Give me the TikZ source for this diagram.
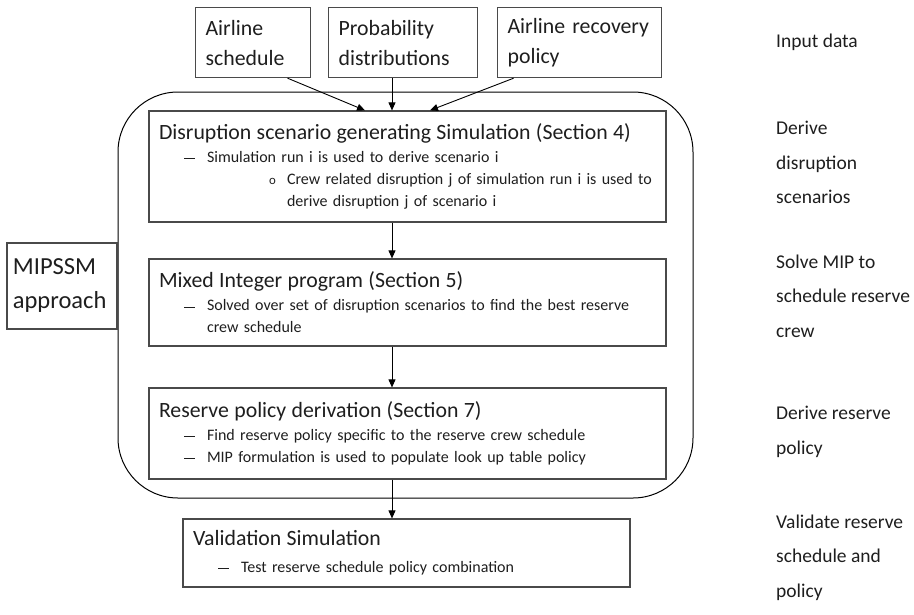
\documentclass[tikz,border=0pt]{standalone}
\usepackage{fontspec}
\setmainfont{Carlito}
\usetikzlibrary{arrows.meta,positioning,calc}

\definecolor{boxline}{HTML}{4A4A4A}
\definecolor{ink}{HTML}{1E1E1E}
\newcommand{\headfont}{\fontsize{21.8}{30}\selectfont}
\newcommand{\itemfont}{\fontsize{16}{22}\selectfont}
\newcommand{\dashitem}[1]{\hspace*{25pt}\makebox[23pt][l]{\rule[3.5pt]{11pt}{0.9pt}}\mbox{#1}}
\newcommand{\circitem}[1]{\hspace*{110pt}\makebox[18pt][l]{\scalebox{0.8}{o}}\mbox{#1}}

\begin{document}
\begin{tikzpicture}[x=1pt, y=-1pt, >={Triangle[length=8pt,width=7pt]}, text=ink,
  input/.style={draw=boxline, line width=1.2pt, align=left, minimum height=70pt, inner xsep=10pt, font=\headfont, anchor=north west},
  stage/.style={draw=boxline, line width=1.2pt, align=left, inner xsep=10pt, inner ysep=0pt, font=\itemfont},
  phase/.style={align=left, anchor=west, inner sep=0pt, font=\fontsize{19.5}{34.5}\selectfont},
  link/.style={->, line width=0.9pt}]
\useasboundingbox (0,0) rectangle (914,614);
% input data
\node[input, minimum width=115pt, text width=95pt] (sched) at (195,7) {Airline\\schedule};
\node[input, minimum width=149pt, text width=129pt] (prob) at (328,7) {Probability\\distributions};
\node[input, minimum width=164pt, text width=144pt] (recov) at (497,7) {Airline recovery\\policy};
% approach frame
\node[draw, line width=1pt, rounded corners=60pt, minimum width=575pt, minimum height=406pt] (frame) at (405.5,295) {};
\node[draw=boxline, line width=1.2pt, align=left, minimum width=110pt, minimum height=86pt, inner xsep=6pt, text width=98pt,
  font=\fontsize{24.5}{34}\selectfont, anchor=east] (mipssm) at (frame.west |- 0,286) {MIPSSM\\approach};
% stages
\node[stage, text width=497pt, minimum height=111pt] (dis) at (407.5,166.5) {{\headfont Disruption scenario generating Simulation (Section 4)}\\[1pt]
  \dashitem{Simulation run i is used to derive scenario i}\\
  \circitem{Crew related disruption j of simulation run i is used to}\\
  \hspace*{128pt}derive disruption j of scenario i};
\node[stage, text width=497pt, minimum height=87pt] (mip) at (407.5,302.5) {{\headfont Mixed Integer program (Section 5)}\\[1pt]
  \dashitem{Solved over set of disruption scenarios to find the best reserve}\\
  \hspace*{48pt}crew schedule};
\node[stage, text width=497pt, minimum height=91pt] (res) at (407.5,433.5) {{\headfont Reserve policy derivation (Section 7)}\\[1pt]
  \dashitem{Find reserve policy specific to the reserve crew schedule}\\
  \dashitem{MIP formulation is used to populate look up table policy}};
\node[stage, text width=427pt, minimum width=447pt, minimum height=68pt] (val) at (406.5,553) {{\headfont Validation Simulation}\\[5pt]
  \dashitem{Test reserve schedule policy combination}};
% phases
\node[phase] (pin) at (776,42) {Input data};
\node[phase] (pdis) at (776,162.5) {Derive\\disruption\\scenarios};
\node[phase] (pmip) at (776,296) {Solve MIP to\\schedule reserve\\crew};
\node[phase] (pres) at (776,432) {Derive reserve\\policy};
\node[phase] (pval) at (776,557.5) {Validate reserve\\schedule and\\policy};
% arrows
\coordinate (spine) at (392,0);
\draw[link] ([xshift=34.5pt]sched.south) -- ([xshift=-42.5pt]dis.north);
\draw[link] (spine |- prob.south) -- (spine |- dis.north);
\draw[link] ([xshift=-66pt]recov.south) -- ([xshift=22.5pt]dis.north);
\draw[link] (spine |- dis.south) -- (spine |- mip.north);
\draw[link] (spine |- mip.south) -- (spine |- res.north);
\draw[link] (spine |- res.south) -- (spine |- val.north);
\end{tikzpicture}
\end{document}
